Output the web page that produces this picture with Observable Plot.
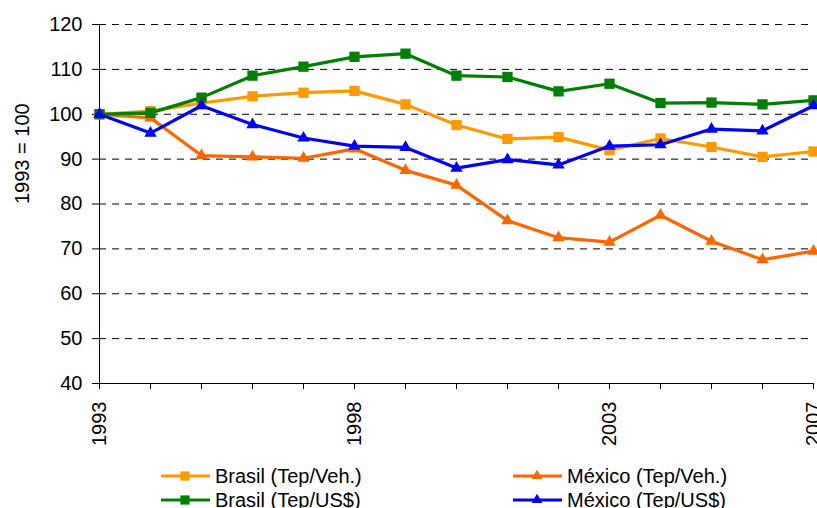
<!DOCTYPE html>
<html><head><meta charset="utf-8">
<script src="https://cdn.jsdelivr.net/npm/d3@7"></script>
<script src="https://cdn.jsdelivr.net/npm/@observablehq/plot@0.6"></script>
<style>
html,body{margin:0;padding:0;background:#fff;overflow:hidden;}
body{font-family:"Liberation Sans",Arial,sans-serif;width:817px;height:508px;}
#legend{position:relative;width:817px;height:58px;}
.item{position:absolute;display:flex;align-items:center;height:24px;font-size:20px;line-height:24px;color:#000;white-space:nowrap;}
.item svg{display:block;margin-right:5px;}
</style></head><body>
<div id="chart"></div>
<div id="legend"></div>
<script>
const years = [1993,1994,1995,1996,1997,1998,1999,2000,2001,2002,2003,2004,2005,2006,2007];
const yearLabels = [1993,1998,2003,2007];
const yTicks = [40,50,60,70,80,90,100,110,120];
const gridTicks = [50,60,70,80,90,100,110,120];

const seriesNames = ["Brasil (Tep/Veh.)","México (Tep/Veh.)","Brasil (Tep/US$)","México (Tep/US$)"];
const seriesColors = ["#FF9900","#FF6600","#008000","#0000FF"];
const seriesSymbols = ["square","triangle","square","triangle"];

const brasilVeh = [100,100.7,102.5,104.0,104.8,105.2,102.2,97.6,94.5,94.9,92.0,94.6,92.7,90.5,91.7];
const mexicoVeh = [100,99.2,90.8,90.5,90.2,92.3,87.5,84.2,76.3,72.5,71.5,77.5,71.7,67.6,69.5];
const brasilUsd = [100,100.3,103.7,108.6,110.6,112.8,113.5,108.6,108.3,105.1,106.8,102.5,102.6,102.2,103.1];
const mexicoUsd = [100,95.8,101.9,97.7,94.7,92.9,92.6,88.0,89.9,88.7,92.9,93.2,96.7,96.3,101.9];

const seriesValues = [brasilVeh, mexicoVeh, brasilUsd, mexicoUsd];

const rowsFor = (i) => years.map((yr, j) => ({year: yr, value: seriesValues[i][j], series: seriesNames[i]}));

const seriesMarks = seriesNames.flatMap((name, i) => {
  const data = rowsFor(i);
  const sq = seriesSymbols[i] === "square";
  return [
    Plot.line(data, {x: "year", y: "value", stroke: seriesColors[i], strokeWidth: 3.2}),
    Plot.dot(data, {x: "year", y: "value", fill: seriesColors[i], stroke: "none", symbol: seriesSymbols[i], r: sq ? 5.8 : 4.6})
  ];
});

const plot = Plot.plot({
  width: 817, height: 450,
  marginLeft: 99, marginRight: 4, marginTop: 24, marginBottom: 67,
  style: {fontFamily: "'Liberation Sans', Arial, sans-serif", fontSize: "20px", background: "white", color: "#000", overflow: "visible"},
  x: {domain: [1993, 2007]},
  y: {domain: [40, 120]},
  marks: [
    Plot.ruleY(gridTicks, {stroke: "#000", strokeWidth: 1, strokeDasharray: "7,6"}),
    Plot.axisY({ticks: yTicks, tickSize: 7, tickPadding: 10, label: null, tickFormat: d => String(d)}),
    Plot.axisX({ticks: years, tickSize: 6, tickPadding: 12, tickRotate: -90, label: null,
      tickFormat: d => yearLabels.includes(d) ? String(d) : ""}),
    Plot.ruleY([40], {stroke: "#000", strokeWidth: 1}),
    Plot.ruleX([1993], {stroke: "#000", strokeWidth: 1}),
    Plot.text(["1993 = 100"], {frameAnchor: "left", dx: -77, rotate: -90, text: d => d, fontSize: 20, fill: "#000"}),
    ...seriesMarks
  ]
});
document.getElementById("chart").appendChild(plot);

// legend
const legend = d3.select("#legend");
const legendPos = [[161, 14], [513, 14], [161, 38], [513, 38]];
seriesNames.forEach((name, i) => {
  const item = legend.append("div").attr("class", "item")
    .style("left", legendPos[i][0] + "px").style("top", legendPos[i][1] + "px");
  const svg = item.append("svg").attr("width", 49).attr("height", 16);
  svg.append("line").attr("x1", 0).attr("x2", 49).attr("y1", 8).attr("y2", 8)
    .attr("stroke", seriesColors[i]).attr("stroke-width", 3.2);
  const sym = seriesSymbols[i] === "square" ? d3.symbolSquare : d3.symbolTriangle;
  const size = seriesSymbols[i] === "square" ? 85 : 50;
  svg.append("path").attr("d", d3.symbol(sym, size)()).attr("transform", "translate(24,8)")
    .attr("fill", seriesColors[i]);
  item.append("span").text(name);
});
</script>
</body></html>
